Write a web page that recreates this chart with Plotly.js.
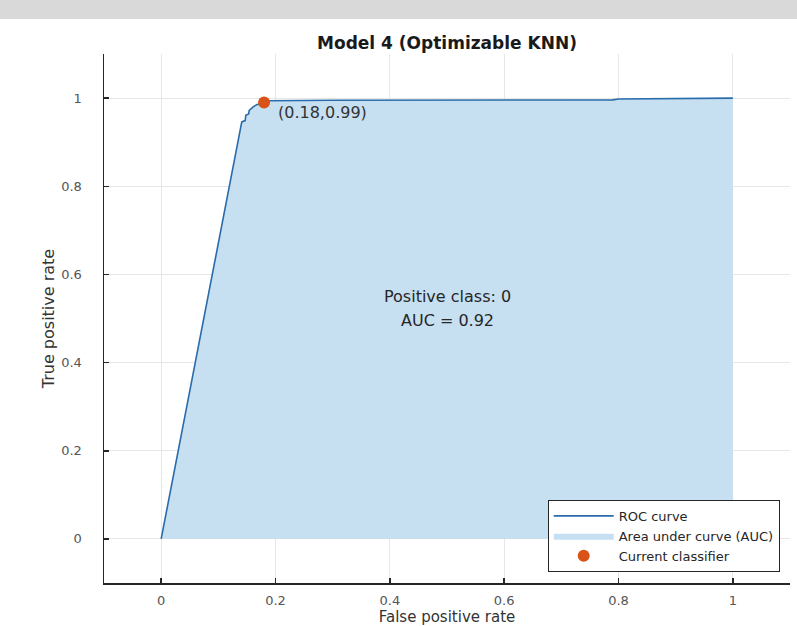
<!DOCTYPE html>
<html>
<head>
<meta charset="utf-8">
<script src="https://cdn.plot.ly/plotly-3.0.1.min.js"></script>
<style>html,body{margin:0;padding:0;background:#fff;}#chart{width:797px;height:626px;}</style>
</head>
<body>
<div id="chart"></div>
<script>
// ROC curve points
const fpr = [0, 0.140, 0.141, 0.147, 0.148, 0.153, 0.154, 0.161, 0.167, 0.175, 0.180, 0.190, 0.300, 0.600, 0.790, 0.800, 1.000];
const tpr = [0, 0.935, 0.946, 0.949, 0.961, 0.964, 0.972, 0.980, 0.985, 0.988, 0.990, 0.994, 0.995, 0.996, 0.996, 0.998, 1.000];
const currentX = [0.18];
const currentY = [0.99];
const tickVals = [0, 0.2, 0.4, 0.6, 0.8, 1];
const tickText = ['0', '0.2', '0.4', '0.6', '0.8', '1'];
const pointLabel = '(0.18,0.99)';
const infoLines = ['Positive class: 0', 'AUC = 0.92'];

const FONT = 'DejaVu Sans, Liberation Sans, Arial, sans-serif';

const traces = [
  {x: fpr, y: tpr, type: 'scatter', mode: 'lines', fill: 'tozeroy',
   fillcolor: '#c6dff1', line: {width: 0, color: '#c6dff1'},
   name: 'Area under curve (AUC)', legendrank: 2, hoverinfo: 'skip'},
  {x: fpr, y: tpr, type: 'scatter', mode: 'lines',
   line: {color: '#2a6cab', width: 1.6},
   name: 'ROC curve', legendrank: 1},
  {x: currentX, y: currentY, type: 'scatter', mode: 'markers',
   marker: {color: '#d95319', size: 12},
   name: 'Current classifier', legendrank: 3}
];

const axisCommon = {
  range: [-0.1, 1.1], tickvals: tickVals, ticktext: tickText,
  showgrid: true, gridcolor: '#e6e6e6', gridwidth: 1,
  zeroline: false, showline: true, linecolor: '#262626', linewidth: 1.5,
  ticks: 'inside', ticklen: 5, tickcolor: '#262626', tickwidth: 1.5,
  tickfont: {family: FONT, size: 13, color: '#555555'},
  automargin: false
};

const layout = {
  width: 797, height: 626,
  margin: {l: 104, r: 7, t: 54, b: 43},
  paper_bgcolor: '#ffffff', plot_bgcolor: '#ffffff',
  font: {family: FONT, color: '#262626'},
  title: {text: '<b>Model 4 (Optimizable KNN)</b>', font: {family: FONT, size: 17, color: '#1a1a1a'},
          xref: 'paper', x: 0.5, xanchor: 'center', yref: 'container', y: 1 - 43/626, yanchor: 'middle'},
  xaxis: Object.assign({}, axisCommon, {
    ticklabelstandoff: 5,
    title: {text: 'False positive rate', font: {family: FONT, size: 15, color: '#333333'}, standoff: 4}
  }),
  yaxis: Object.assign({}, axisCommon, {
    ticklabelstandoff: 18,
    title: {text: 'True positive rate', font: {family: FONT, size: 16, color: '#333333'}, standoff: 2}
  }),
  showlegend: true,
  legend: {x: 0.985, y: 0.021, xanchor: 'right', yanchor: 'bottom',
           bgcolor: '#ffffff', bordercolor: '#262626', borderwidth: 1,
           font: {family: FONT, size: 13, color: '#262626'}, tracegroupgap: 0, itemwidth: 60},
  annotations: [
    {x: currentX[0], y: currentY[0], xref: 'x', yref: 'y', text: pointLabel,
     showarrow: false, xanchor: 'left', yanchor: 'middle', xshift: 12, yshift: -10,
     font: {family: FONT, size: 16, color: '#333333'}},
    {x: 0.5, y: 0.549, xref: 'x', yref: 'y', text: infoLines[0], showarrow: false,
     xanchor: 'center', yanchor: 'middle', font: {family: FONT, size: 16, color: '#262626'}},
    {x: 0.5, y: 0.495, xref: 'x', yref: 'y', text: infoLines[1], showarrow: false,
     xanchor: 'center', yanchor: 'middle', font: {family: FONT, size: 16, color: '#262626'}}
  ],
  shapes: [
    {type: 'rect', xref: 'paper', yref: 'paper', x0: -0.16, x1: 1.02,
     y0: (583 - 19) / 529, y1: 1.11, fillcolor: '#d9d9d9', line: {width: 0}, layer: 'above'}
  ]
};

Plotly.newPlot('chart', traces, layout, {displayModeBar: false, staticPlot: true});
</script>
</body>
</html>
